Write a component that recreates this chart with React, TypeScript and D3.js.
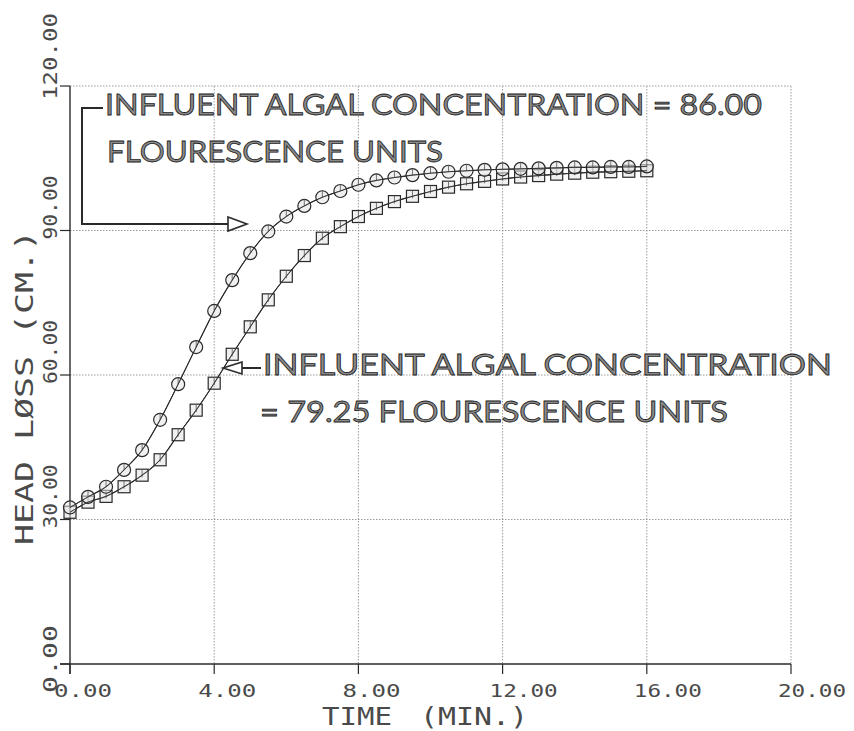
import React from "react";
import * as d3 from "d3";

const times: number[] = [0,0.5,1,1.5,2,2.5,3,3.5,4,4.5,5,5.5,6,6.5,7,7.5,8,8.5,9,9.5,10,10.5,11,11.5,12,12.5,13,13.5,14,14.5,15,15.5,16];
const circleSeries: number[] = [32.5,34.7,36.8,40.3,44.4,50.7,58.1,65.8,73.3,79.7,85.3,89.8,92.9,95.1,96.9,98.2,99.5,100.4,101.0,101.5,101.9,102.2,102.4,102.6,102.7,102.8,102.9,103.0,103.1,103.1,103.2,103.2,103.3];
const squareSeries: number[] = [31.5,33.6,34.8,36.8,39.2,42.4,47.6,52.7,58.3,64.3,70.0,75.6,80.5,84.8,88.4,90.8,92.9,94.6,96.0,97.1,98.1,99.0,99.7,100.2,100.7,101.1,101.4,101.7,101.9,102.1,102.2,102.3,102.4];
const xTicks: number[] = [0, 4, 8, 12, 16, 20];
const xTickLabels: string[] = ["0.00", "4.00", "8.00", "12.00", "16.00", "20.00"];
const yTicks: number[] = [0, 30, 60, 90, 120];
const yTickLabels: string[] = ["0.00", "30.00", "60.00", "90.00", "120.00"];
const xTitle1 = "TIME";
const xTitle2 = "(MIN.)";
const yTitle = "HEAD LØSS (CM.)";
const note1a = "INFLUENT ALGAL CONCENTRATION = 86.00";
const note1b = "FLOURESCENCE UNITS";
const note2a = "INFLUENT ALGAL CONCENTRATION";
const note2b = "= 79.25 FLOURESCENCE UNITS";

export default function App() {
  const W = 854, H = 731;
  const x = d3.scaleLinear().domain([0, 20]).range([70, 791]);
  const y = d3.scaleLinear().domain([0, 120]).range([664, 86]);
  const line = d3.line<[number, number]>().x(d => x(d[0])).y(d => y(d[1])).curve(d3.curveMonotoneX);
  const cPts: [number, number][] = times.map((t, i) => [t, circleSeries[i]]);
  const sPts: [number, number][] = times.map((t, i) => [t, squareSeries[i]]);
  const mono = "'DejaVu Sans Mono', 'Liberation Mono', monospace";
  const sans = "Lato, 'DejaVu Sans', sans-serif";
  const grid = "#9a9a9a";
  const ink = "#2a2a2a";
  const lab = "#4a4a4a";
  const x0 = x(0), x1 = x(20), yb = y(0), yt = y(120);

  return (
    <svg width={W} height={H} style={{ position: "absolute", left: 0, top: 0, background: "#fff" }}>
      {/* grid lines */}
      {xTicks.slice(1).map((t, i) => (
        <line key={"gx" + i} x1={x(t)} x2={x(t)} y1={yt} y2={yb} stroke={grid} strokeWidth={1} strokeDasharray="1.5,1.5" />
      ))}
      {yTicks.slice(1).map((v, i) => (
        <line key={"gy" + i} x1={x0} x2={x1} y1={y(v)} y2={y(v)} stroke={grid} strokeWidth={1} strokeDasharray="1.5,1.5" />
      ))}
      {/* axes */}
      <line x1={x0} x2={x0} y1={yt} y2={yb + 10} stroke={ink} strokeWidth={1.4} />
      <line x1={x0 - 10} x2={x1} y1={yb} y2={yb} stroke={ink} strokeWidth={1.4} />
      {yTicks.map((v, i) => (
        <line key={"ty" + i} x1={x0 - 10} x2={x0} y1={y(v)} y2={y(v)} stroke={ink} strokeWidth={1.2} />
      ))}
      {xTicks.map((t, i) => (
        <line key={"tx" + i} x1={x(t)} x2={x(t)} y1={yb} y2={yb + 10} stroke={ink} strokeWidth={1.2} />
      ))}
      {/* tick labels */}
      {xTicks.map((t, i) => (
        <text key={"lx" + i} x={x(t) - (xTickLabels[i].length > 4 ? 13 : 16)} y={697} fontFamily={mono} fontSize={18}
          fill={lab} textLength={xTickLabels[i].length > 4 ? 68 : 58} lengthAdjust="spacingAndGlyphs">{xTickLabels[i]}</text>
      ))}
      {yTicks.map((v, i) => {
        const s = yTickLabels[i];
        const start = i === 0 ? y(v) + 29 : y(v) + (s.length > 5 ? 14 : 9);
        const len = i === 0 ? 68 : s.length > 5 ? 87 : 64;
        return (
          <text key={"ly" + i} transform={`translate(57,${start}) rotate(-90)`} fontFamily={mono} fontSize={19}
            fill={lab} textLength={len} lengthAdjust="spacingAndGlyphs">{s}</text>
        );
      })}
      {/* axis titles */}
      <text x={322} y={725} fontFamily={mono} fontSize={24} fill={lab} textLength={70} lengthAdjust="spacingAndGlyphs">{xTitle1}</text>
      <text x={420} y={725} fontFamily={mono} fontSize={24} fill={lab} textLength={108} lengthAdjust="spacingAndGlyphs">{xTitle2}</text>
      <text transform="translate(33,545) rotate(-90)" fontFamily={mono} fontSize={25} fill={lab} textLength={315} lengthAdjust="spacingAndGlyphs">{yTitle}</text>

      {/* series lines */}
      <path d={line(cPts) || ""} fill="none" stroke={ink} strokeWidth={1.1} />
      <path d={line(sPts) || ""} fill="none" stroke={ink} strokeWidth={1.1} />
      {/* markers */}
      {sPts.map((p, i) => (
        <g key={"s" + i}>
          <rect x={x(p[0]) - 6} y={y(p[1]) - 6} width={12} height={12} fill="#e4e4e4" fillOpacity={0.55} stroke={ink} strokeWidth={1.2} />
          <line x1={x(p[0])} x2={x(p[0])} y1={y(p[1]) - 6} y2={y(p[1]) + 2} stroke="#555" strokeWidth={0.8} />
        </g>
      ))}
      {cPts.map((p, i) => (
        <g key={"c" + i}>
          <circle cx={x(p[0])} cy={y(p[1])} r={6.5} fill="#e4e4e4" fillOpacity={0.55} stroke={ink} strokeWidth={1.2} />
          <line x1={x(p[0])} x2={x(p[0])} y1={y(p[1]) - 6.5} y2={y(p[1])} stroke="#555" strokeWidth={0.8} />
        </g>
      ))}
      <path d={line(cPts) || ""} fill="none" stroke={ink} strokeWidth={0.9} />
      <path d={line(sPts) || ""} fill="none" stroke={ink} strokeWidth={0.9} />

      {/* annotation 1 */}
      <path d="M103,108 L82,108 L82,224 L230,224" fill="none" stroke={ink} strokeWidth={2} />
      <path d="M228,217 L247,224 L228,231 Z" fill="#fff" stroke={ink} strokeWidth={1.6} />
      <text x={105} y={115} fontFamily={sans} fontSize={29} fill="#8a8a8a" stroke="#222" strokeWidth={0.8}
        textLength={657} lengthAdjust="spacingAndGlyphs">{note1a}</text>
      <text x={107} y={162} fontFamily={sans} fontSize={29} fill="#8a8a8a" stroke="#222" strokeWidth={0.8}
        textLength={336} lengthAdjust="spacingAndGlyphs">{note1b}</text>

      {/* annotation 2 */}
      <path d="M240,368 L261,368" fill="none" stroke={ink} strokeWidth={2} />
      <path d="M242,362 L223,368 L242,374 Z" fill="#fff" stroke={ink} strokeWidth={1.6} />
      <text x={263} y={375} fontFamily={sans} fontSize={29} fill="#8a8a8a" stroke="#222" strokeWidth={0.8}
        textLength={569} lengthAdjust="spacingAndGlyphs">{note2a}</text>
      <text x={260} y={422} fontFamily={sans} fontSize={29} fill="#8a8a8a" stroke="#222" strokeWidth={0.8}
        textLength={468} lengthAdjust="spacingAndGlyphs">{note2b}</text>
    </svg>
  );
}
